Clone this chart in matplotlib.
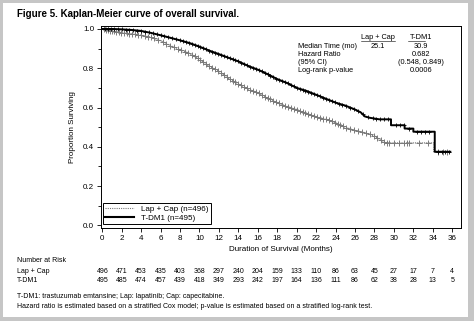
import numpy as np
import matplotlib
matplotlib.use("Agg")
import matplotlib.pyplot as plt
from matplotlib.patches import Rectangle
from matplotlib.lines import Line2D
from matplotlib.transforms import blended_transform_factory

plt.rcParams["font.family"] = ["Liberation Sans", "DejaVu Sans"]

# Kaplan-Meier curves (months, proportion surviving);
# repeated times mark the visible vertical drops of the later, coarser steps
lapcap_t = [0, 0.5, 1, 1.5, 2, 3, 4, 5, 6, 7, 8, 9, 10, 11, 12, 13, 14, 15, 16, 17, 18,
            19, 20, 21, 22, 23, 24, 25, 26, 27, 28, 28.6, 29.2, 34.1, 34.1, 35.8]
lapcap_s = [1.0, 0.995, 0.99, 0.985, 0.98, 0.975, 0.968, 0.958, 0.94, 0.915, 0.895, 0.875,
            0.845, 0.81, 0.785, 0.748, 0.72, 0.695, 0.675, 0.648, 0.625, 0.605, 0.59, 0.57,
            0.553, 0.54, 0.522, 0.50, 0.483, 0.472, 0.455, 0.435, 0.42, 0.42, 0.375, 0.375]
tdm1_t = [0, 1, 2, 3, 4, 5, 6, 7, 8, 9, 10, 11, 12, 13, 14, 15, 16, 17, 18, 19, 20, 21,
          22, 23, 24, 25, 26, 26.6, 27.0, 27.5, 28.5, 29.7, 29.7, 31.1, 31.1, 32.0, 32.0,
          34.2, 34.2, 35.8]
tdm1_s = [1.0, 1.0, 0.998, 0.995, 0.99, 0.98, 0.968, 0.955, 0.942, 0.928, 0.91, 0.89,
          0.872, 0.853, 0.835, 0.812, 0.793, 0.77, 0.745, 0.725, 0.70, 0.685, 0.665, 0.645,
          0.625, 0.61, 0.59, 0.575, 0.555, 0.548, 0.54, 0.54, 0.51, 0.51, 0.493, 0.493,
          0.477, 0.477, 0.375, 0.375]

# censoring times (+ marks)
lapcap_cens = [0.2, 0.4, 0.6, 0.8, 1.0, 1.2, 1.4, 1.7, 1.9, 2.2, 2.5, 2.8, 3.1, 3.4, 3.7,
               4.0, 4.4, 4.7, 5.0, 5.3, 5.7, 6.2, 6.6, 7.0, 7.4, 7.8, 8.1, 8.5, 8.8, 9.2,
               9.5, 9.8, 10.1, 10.4, 10.7, 11.0, 11.3, 11.6, 11.9, 12.2, 12.5, 12.8, 13.1,
               13.4, 13.7, 14.0, 14.3, 14.6, 14.9, 15.2, 15.5, 15.8, 16.1, 16.4, 16.7, 17.0,
               17.3, 17.6, 17.9, 18.2, 18.5, 18.8, 19.1, 19.4, 19.7, 20.0, 20.3, 20.6, 20.9,
               21.2, 21.5, 21.8, 22.1, 22.4, 22.7, 23.0, 23.3, 23.6, 23.9, 24.2, 24.5, 24.8,
               25.1, 25.5, 25.9, 26.3, 26.7, 27.1, 27.5, 27.9, 28.3, 28.7, 29.0, 29.3, 29.5,
               30.0, 30.5, 31.0, 31.3, 31.6, 32.6, 33.5, 34.5, 35.0, 35.5]
tdm1_cens = [0.3, 0.6, 0.9, 1.2, 1.6, 2.0, 2.4, 2.8, 3.2, 3.6, 4.0, 4.4, 4.8, 5.2, 5.6, 6.0,
             6.4, 6.8, 7.2, 7.6, 8.0, 8.3, 8.6, 8.9, 9.2, 9.5, 9.8, 10.1, 10.4, 10.7, 11.0,
             11.3, 11.6, 11.9, 12.2, 12.5, 12.8, 13.1, 13.4, 13.7, 14.0, 14.3, 14.6, 14.9,
             15.2, 15.5, 15.8, 16.1, 16.4, 16.7, 17.0, 17.3, 17.6, 17.9, 18.2, 18.5, 18.8,
             19.1, 19.4, 19.7, 20.0, 20.3, 20.6, 20.9, 21.2, 21.5, 21.8, 22.1, 22.4, 22.7,
             23.0, 23.3, 23.6, 23.9, 24.3, 24.7, 25.1, 25.5, 25.9, 26.3, 26.8, 27.3, 27.8,
             28.2, 28.6, 29.0, 29.4, 30.2, 30.6, 31.0, 31.5, 32.4, 32.8, 33.2, 33.6, 34.5,
             34.9, 35.3, 35.7]

risk_times = list(range(0, 37, 2))
risk_lapcap = [496, 471, 453, 435, 403, 368, 297, 240, 204, 159, 133, 110, 86, 63, 45, 27, 17, 7, 4]
risk_tdm1 = [495, 485, 474, 457, 439, 418, 349, 293, 242, 197, 164, 136, 111, 86, 62, 38, 28, 13, 5]

W, H = 474, 321
fig = plt.figure(figsize=(W / 100, H / 100), dpi=100)
fig.patch.set_facecolor("white")


def fx(px):
    return px / W


def fy(py):
    return 1 - py / H


ax = fig.add_axes([fx(101), fy(228), fx(461) - fx(101), fy(26) - fy(228)])

gray = "#7a7a7a"
ax.plot(lapcap_t, lapcap_s, color=gray, lw=0.9, ls=(0, (1, 0.8)))
ax.plot(lapcap_cens, np.interp(lapcap_cens, lapcap_t, lapcap_s), "+", color=gray,
        ms=4, mew=0.7, ls="none")
ax.plot(tdm1_t, tdm1_s, color="black", lw=1.4)
ax.plot(tdm1_cens, np.interp(tdm1_cens, tdm1_t, tdm1_s), "+", color="black",
        ms=3.5, mew=0.6, ls="none")

ax.set_xlim(-0.13, 36.9)
ax.set_ylim(-0.013, 1.015)
ax.set_xticks(risk_times)
ax.set_yticks([0.0, 0.2, 0.4, 0.6, 0.8, 1.0])
ax.set_yticklabels(["0.0", "0.2", "0.4", "0.6", "0.8", "1.0"])
ax.set_yticks(np.arange(0.1, 1.0, 0.2), minor=True)
ax.tick_params(axis="both", which="major", labelsize=5.8, length=3, width=0.6, pad=2)
ax.tick_params(axis="y", which="minor", length=2, width=0.6)
for sp in ax.spines.values():
    sp.set_linewidth(0.7)
ax.set_xlabel("Duration of Survival (Months)", fontsize=5.8, labelpad=3)
ax.set_ylabel("Proportion Surviving", fontsize=5.8, labelpad=5)

handles = [Line2D([], [], color=gray, lw=0.8, ls=(0, (1, 1))),
           Line2D([], [], color="black", lw=1.5)]
leg = ax.legend(handles, ["Lap + Cap (n=496)", "T-DM1 (n=495)"], loc="lower left",
                bbox_to_anchor=(0.005, 0.018), fontsize=5.8, handlelength=3.6,
                fancybox=False, edgecolor="black", framealpha=1, borderpad=0.3,
                labelspacing=0.15, handletextpad=0.8, borderaxespad=0)
leg.get_frame().set_linewidth(0.7)

# summary table
ts = 5.3
fig.text(fx(378), fy(37.5), "Lap + Cap", fontsize=ts, ha="center", va="center")
fig.text(fx(421), fy(37.5), "T-DM1", fontsize=ts, ha="center", va="center")
fig.add_artist(Line2D([fx(361), fx(395)], [fy(41), fy(41)], color="black", lw=0.4))
fig.add_artist(Line2D([fx(408), fx(425)], [fy(41), fy(41)], color="black", lw=0.4))
rows = ["Median Time (mo)", "Hazard Ratio", "(95% CI)", "Log-rank p-value"]
vals = ["30.9", "0.682", "(0.548, 0.849)", "0.0006"]
for i, (r, v) in enumerate(zip(rows, vals)):
    yy = 46 + 8 * i
    fig.text(fx(298), fy(yy), r, fontsize=ts, ha="left", va="center")
    fig.text(fx(421), fy(yy), v, fontsize=ts, ha="center", va="center")
fig.text(fx(378), fy(46), "25.1", fontsize=ts, ha="center", va="center")

fig.text(fx(17), fy(14), "Figure 5. Kaplan-Meier curve of overall survival.",
         fontsize=7.0, fontweight="bold", ha="left", va="center")

# number at risk
rs = 5.0
tr = blended_transform_factory(ax.transData, fig.transFigure)
fig.text(fx(17), fy(260.5), "Number at Risk", fontsize=rs, va="center")
fig.text(fx(17), fy(271.5), "Lap + Cap", fontsize=rs, va="center")
fig.text(fx(17), fy(280.5), "T-DM1", fontsize=rs, va="center")
for t, a, b in zip(risk_times, risk_lapcap, risk_tdm1):
    ax.text(t, fy(271.5), str(a), transform=tr, fontsize=rs, ha="center", va="center")
    ax.text(t, fy(280.5), str(b), transform=tr, fontsize=rs, ha="center", va="center")

fig.text(fx(17), fy(297), "T-DM1: trastuzumab emtansine; Lap: lapatinib; Cap: capecitabine.",
         fontsize=rs, va="center")
fig.text(fx(17), fy(306.5), "Hazard ratio is estimated based on a stratified Cox model; "
         "p-value is estimated based on a stratified log-rank test.", fontsize=rs, va="center")

# gray frame around the figure
bc = "#c6c6c6"
for (x0, y0, w, h) in [(0, 0, 3, H), (468, 0, 6, H), (0, 0, W, 3), (0, 317, W, 4)]:
    fig.add_artist(Rectangle((fx(x0), fy(y0 + h)), w / W, h / H, transform=fig.transFigure,
                             facecolor=bc, edgecolor="none"))

fig.savefig("out.png", dpi=100)
